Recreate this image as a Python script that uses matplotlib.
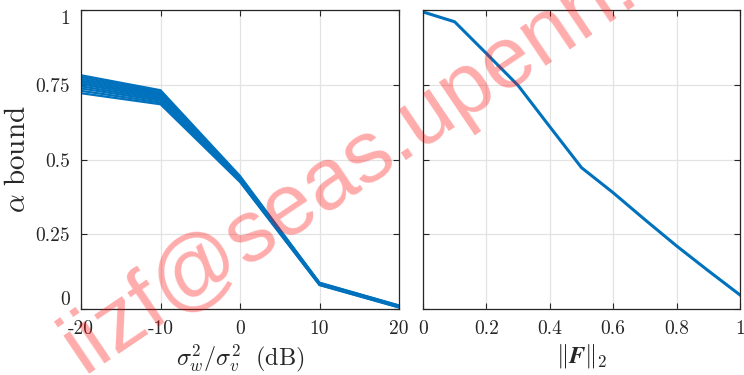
import matplotlib
matplotlib.use("Agg")
import matplotlib.pyplot as plt
import numpy as np

# left panel: alpha bound vs noise ratio, one line per trial
snr_db = [-20, -10, 0, 10, 20]
alpha_snr = [
    [0.782, 0.732, 0.445, 0.088, 0.012],
    [0.776, 0.727, 0.442, 0.087, 0.011],
    [0.770, 0.722, 0.440, 0.086, 0.010],
    [0.764, 0.717, 0.438, 0.085, 0.010],
    [0.758, 0.712, 0.436, 0.085, 0.009],
    [0.752, 0.707, 0.434, 0.084, 0.008],
    [0.745, 0.702, 0.432, 0.083, 0.008],
    [0.738, 0.697, 0.430, 0.082, 0.007],
    [0.730, 0.691, 0.428, 0.081, 0.006],
    [0.722, 0.685, 0.425, 0.080, 0.005],
]

# right panel: alpha bound vs ||F||_2
f_norm = [0, 0.1, 0.2, 0.3, 0.4, 0.5, 0.6, 0.7, 0.8, 0.9, 1.0]
alpha_f = [0.994, 0.961, 0.855, 0.748, 0.61, 0.473, 0.389, 0.299, 0.211, 0.128, 0.047]

left_xticks = [-20, -10, 0, 10, 20]
right_xticks = [0, 0.2, 0.4, 0.6, 0.8, 1]
yticks = [0, 0.25, 0.5, 0.75, 1]

plt.rcParams['mathtext.fontset'] = 'cm'
plt.rcParams['axes.unicode_minus'] = False

blue = '#0072BD'
axcol = '#262626'
tick_font = dict(family='cmr10', size=14, color=axcol)

fig = plt.figure(figsize=(7.44, 3.75), dpi=100)
ax1 = fig.add_axes([0.1089, 0.176, 0.4274, 0.797])
ax2 = fig.add_axes([0.5685, 0.176, 0.4261, 0.797])

for row in alpha_snr:
    ax1.plot(snr_db, row, color=blue, lw=1.6, solid_joinstyle='miter')
ax2.plot(f_norm, alpha_f, color=blue, lw=2.2)

def style(ax, xticks, xlab):
    ax.set_ylim(0, 1)
    ax.set_xlim(xticks[0], xticks[-1])
    ax.set_xticks(xticks)
    ax.set_yticks(yticks)
    ax.grid(True, color='#e3e3e3', lw=0.9)
    ax.set_axisbelow(True)
    ax.tick_params(direction='in', top=True, right=True, length=4,
                   color=axcol, width=0.8, pad=8)
    for s in ax.spines.values():
        s.set_color(axcol)
        s.set_linewidth(0.9)
    ax.set_xticklabels([('%g' % t) for t in xticks], fontdict=tick_font)
    ax.set_xlabel(xlab, fontsize=17.5, color=axcol, labelpad=3)

style(ax1, left_xticks, r'$\sigma_w^2/\sigma_v^2\ \ \mathrm{(dB)}$')
style(ax2, right_xticks, r'$\|\boldsymbol{F}\|_2$')

ax1.set_yticklabels([('%g' % t) for t in yticks], fontdict=tick_font)
labs = ax1.get_yticklabels()
labs[0].set_va('bottom')
labs[-1].set_va('top')
ax2.set_yticklabels([])
ax1.set_ylabel(r'$\alpha\ \mathrm{bound}$', fontsize=21, color=axcol, labelpad=3)

# watermark
fig.text(0.568, 0.612, 'iizf@seas.upenn.edu', fontsize=63, color='red',
         alpha=0.33, rotation=34, ha='center', va='baseline',
         rotation_mode='anchor', family='Liberation Sans')

fig.savefig('out.png', dpi=100)
